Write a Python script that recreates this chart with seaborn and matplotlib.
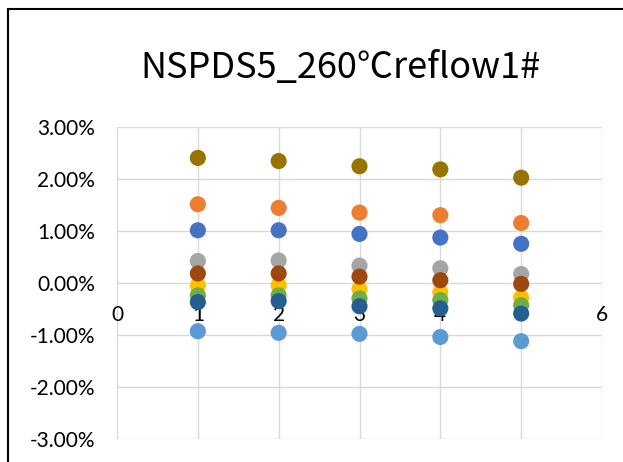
import matplotlib
matplotlib.use("Agg")
import matplotlib.pyplot as plt
import matplotlib.patches as mpatches
import seaborn as sns
import pandas as pd
import numpy as np

# sample index on the x axis
x_vals = [1, 2, 3, 4, 5]

# series values in percent, in Excel series order (later ones drawn on top)
s_blue = [1.01, 1.01, 0.94, 0.87, 0.75]
s_orange = [1.51, 1.44, 1.35, 1.30, 1.15]
s_gray = [0.42, 0.43, 0.33, 0.28, 0.17]
s_yellow = [-0.05, -0.05, -0.12, -0.18, -0.28]
s_lightblue = [-0.93, -0.96, -0.98, -1.04, -1.12]
s_green = [-0.24, -0.24, -0.30, -0.33, -0.43]
s_brown = [0.18, 0.18, 0.12, 0.05, -0.02]
s_olive = [2.40, 2.34, 2.24, 2.18, 2.02]
s_darkblue = [-0.37, -0.35, -0.45, -0.49, -0.59]

series_names = ["S1", "S2", "S3", "S4", "S5", "S6", "S8", "S10", "S11"]
series_vals = [s_blue, s_orange, s_gray, s_yellow, s_lightblue, s_green,
               s_brown, s_olive, s_darkblue]
colors = ["#4472C4", "#ED7D31", "#A5A5A5", "#FFC000", "#5B9BD5", "#70AD47",
          "#9E480E", "#997300", "#255E91"]

y_ticks = [-3, -2, -1, 0, 1, 2, 3]
x_ticks = [0, 1, 2, 3, 4, 5, 6]
title = "NSPDS5_260\u2103reflow1#"

rows = []
for name, vals in zip(series_names, series_vals):
    for xv, yv in zip(x_vals, vals):
        rows.append({"x": xv, "y": yv, "series": name})
df = pd.DataFrame(rows)

sns.set_style("white")
plt.rcParams["font.family"] = ["Lato", "Noto Sans CJK SC", "DejaVu Sans"]

fig = plt.figure(figsize=(6.23, 4.62), dpi=100)
ax = fig.add_axes([117 / 623, 23 / 462, 485 / 623, 312.3 / 462])

sns.scatterplot(data=df, x="x", y="y", hue="series", palette=colors,
                hue_order=series_names, s=135, linewidth=0, legend=False,
                ax=ax, zorder=3)

ax.set_xlim(0, 6)
ax.set_ylim(-3, 3)
ax.set_xticks(x_ticks)
ax.set_yticks(y_ticks)
ax.set_yticklabels([f"{v:.2f}%" for v in y_ticks])
ax.set_xlabel("")
ax.set_ylabel("")
ax.grid(True, color="#D9D9D9", linewidth=1.0, zorder=0)
ax.set_axisbelow(True)
for side in ["top", "right", "left", "bottom"]:
    ax.spines[side].set_visible(False)
ax.spines["bottom"].set_position(("data", 0))
ax.tick_params(axis="x", length=0, pad=16, labelsize=15, colors="black")
ax.tick_params(axis="y", length=0, pad=16, labelsize=15, colors="black")

fig.text(340 / 623, 1 - 68 / 462, title, ha="center", va="center",
         fontsize=26, color="black", family=["Noto Sans CJK SC", "DejaVu Sans"])

# outer chart border (cropped on the right and bottom like the reference)
border = mpatches.Rectangle((8 / 623, -0.2), 1.2, 1.2 - 9 / 462,
                            transform=fig.transFigure, fill=False,
                            edgecolor="black", linewidth=1.5)
fig.patches.append(border)

fig.savefig("out.png", dpi=100)
